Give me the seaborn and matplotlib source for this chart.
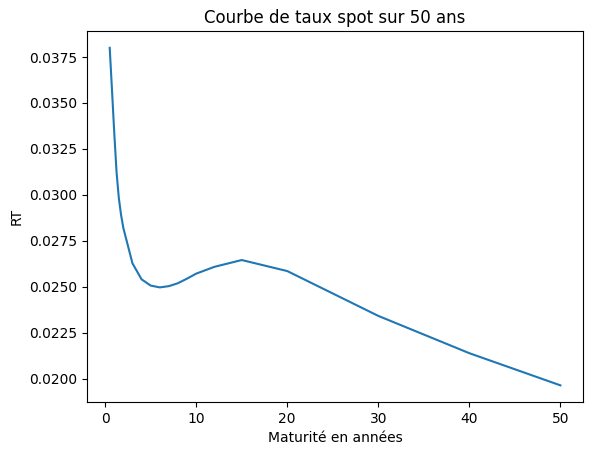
import matplotlib
matplotlib.use("Agg")
import matplotlib.pyplot as plt
import seaborn as sns
import pandas as pd

maturites = [0.5, 0.75, 1, 1.25, 1.5, 1.75, 2, 3, 4, 5, 6, 7, 8, 9, 10, 12, 15, 20, 30, 40, 50]
taux = [0.0380, 0.03572, 0.03337, 0.03125, 0.02983, 0.02890, 0.02819, 0.02627, 0.02540,
        0.02506, 0.02496, 0.02503, 0.02519, 0.02544, 0.02571, 0.02608, 0.02645, 0.02585,
        0.02341, 0.02138, 0.01963]

df = pd.DataFrame({"Maturite": maturites, "RT": taux})

fig = plt.figure(figsize=(5.93, 4.55), dpi=100)
ax = fig.add_axes([0.147, 0.116, 0.836, 0.816])
sns.lineplot(data=df, x="Maturite", y="RT", ax=ax, color="#1f77b4", linewidth=1.5)
ax.set_title("Courbe de taux spot sur 50 ans")
ax.set_xlabel("Maturité en années")
ax.set_ylabel("RT")
fig.savefig("out.png", dpi=100)
